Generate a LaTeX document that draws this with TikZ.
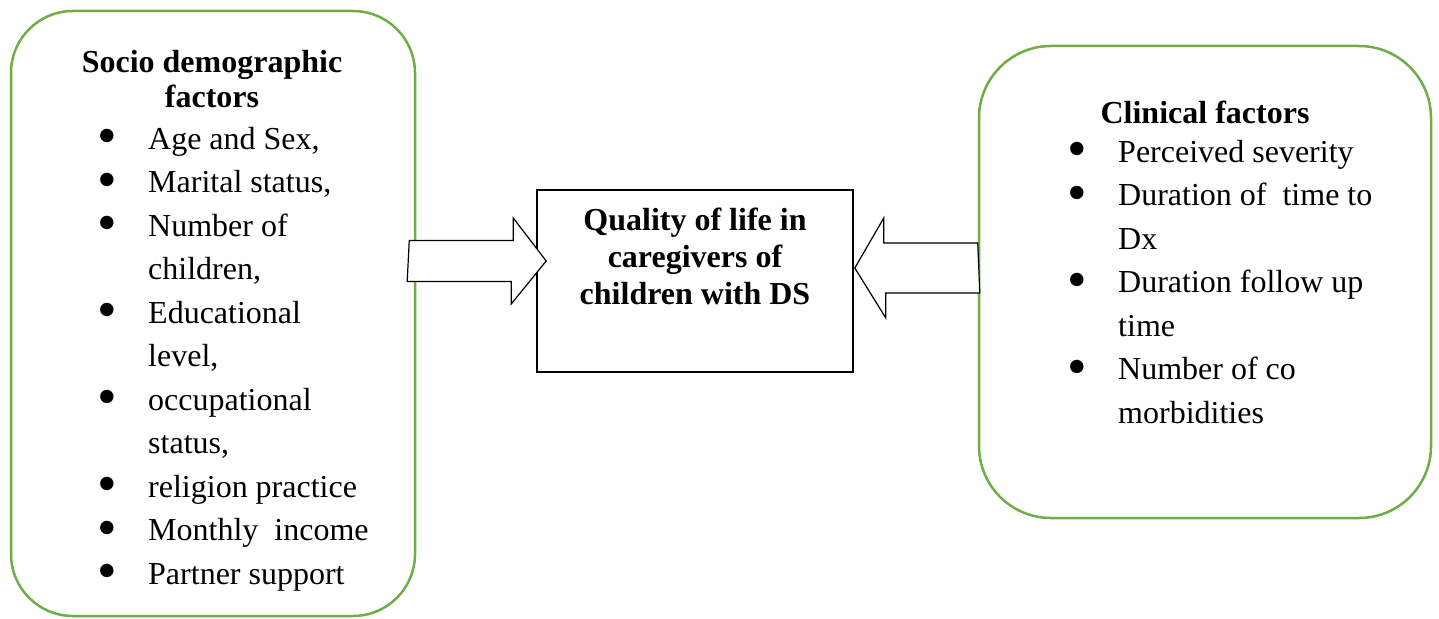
\documentclass[tikz,border=0pt]{standalone}
\usepackage{fontspec}
\setmainfont{Liberation Serif}

\definecolor{boxgreen}{HTML}{70AD47}
% bullet hanging 41pt in front of the item text
\newcommand{\bul}{\hbox to 41pt{\hbox to 0pt{\hss\smash{\raisebox{-5.5pt}{\fontsize{56}{56}\selectfont\textbullet}}\hss}\hfil}}

\begin{document}
\begin{tikzpicture}[x=1pt, y=-1pt,
  factorbox/.style={draw=boxgreen, line width=2.5pt, fill=white, inner sep=0pt},
  qolbox/.style={draw, line width=1.6pt, inner sep=0pt, minimum width=316pt, minimum height=182pt},
  fatarrow/.style={draw, fill=white, line width=1.2pt, line join=miter},
  listtext/.style={font=\fontsize{32}{43.5}\selectfont, inner sep=0pt, anchor=base west},
  headtext/.style={font=\bfseries\fontsize{32}{35}\selectfont, inner sep=0pt, anchor=base}]

\useasboundingbox (0,0) rectangle (1439,618);

% factor boxes
\node[factorbox, rounded corners=62pt, minimum width=404pt, minimum height=605pt] (socio) at (213,313.5) {};
\node[factorbox, rounded corners=72pt, minimum width=452pt, minimum height=472pt] (clin) at (1205,282) {};

% outcome box
\node[qolbox] (qol) at (695,281) {};
\node[headtext, font=\bfseries\fontsize{32}{37}\selectfont] (qoltext) at (695,230)
  {\begin{tabular}[t]{@{}c@{}}Quality of life in\\caregivers of\\children with DS\end{tabular}};

% socio demographic factors
\node[headtext] (sociohead) at (212,72)
  {\begin{tabular}[t]{@{}c@{}}Socio demographic\\factors\end{tabular}};
\node[listtext] (socioitems) at (107,149)
  {\begin{tabular}[t]{@{}l@{}}
   \bul Age and Sex,\\
   \bul Marital status,\\
   \bul Number of\\
   \hspace{41pt}children,\\
   \bul Educational\\
   \hspace{41pt}level,\\
   \bul occupational\\
   \hspace{41pt}status,\\
   \bul religion practice\\
   \bul Monthly\ \ income\\
   \bul Partner support
  \end{tabular}};

% clinical factors
\node[headtext] (clinhead) at (1205,123) {Clinical factors};
\node[listtext] (clinitems) at (1077,162)
  {\begin{tabular}[t]{@{}l@{}}
   \bul Perceived severity\\
   \bul Duration of\ \ time to\\
   \hspace{41pt}Dx\\
   \bul Duration follow up\\
   \hspace{41pt}time\\
   \bul Number of co\\
   \hspace{41pt}morbidities
  \end{tabular}};

% block arrows into the outcome box
\coordinate (ltail) at ([shift={(-7,-73)}]socio.east);
\coordinate (ltip) at ([shift={(10,-20)}]qol.west);
\draw[fatarrow] (ltail) -- ++(104,0) -- ++(0,-22.5) -- (ltip)
  -- ++(-35,43) -- ++(0,-22.5) -- ++(-104,0) -- cycle;

\coordinate (rtail) at ([shift={(0,-39)}]clin.west);
\coordinate (rtip) at ([shift={(1,-13)}]qol.east);
\draw[fatarrow] (rtail) -- ++(-94,0) -- ++(0,-25) -- (rtip)
  -- ++(31,50) -- ++(0,-25) -- ++(94,0) -- cycle;

\end{tikzpicture}
\end{document}
